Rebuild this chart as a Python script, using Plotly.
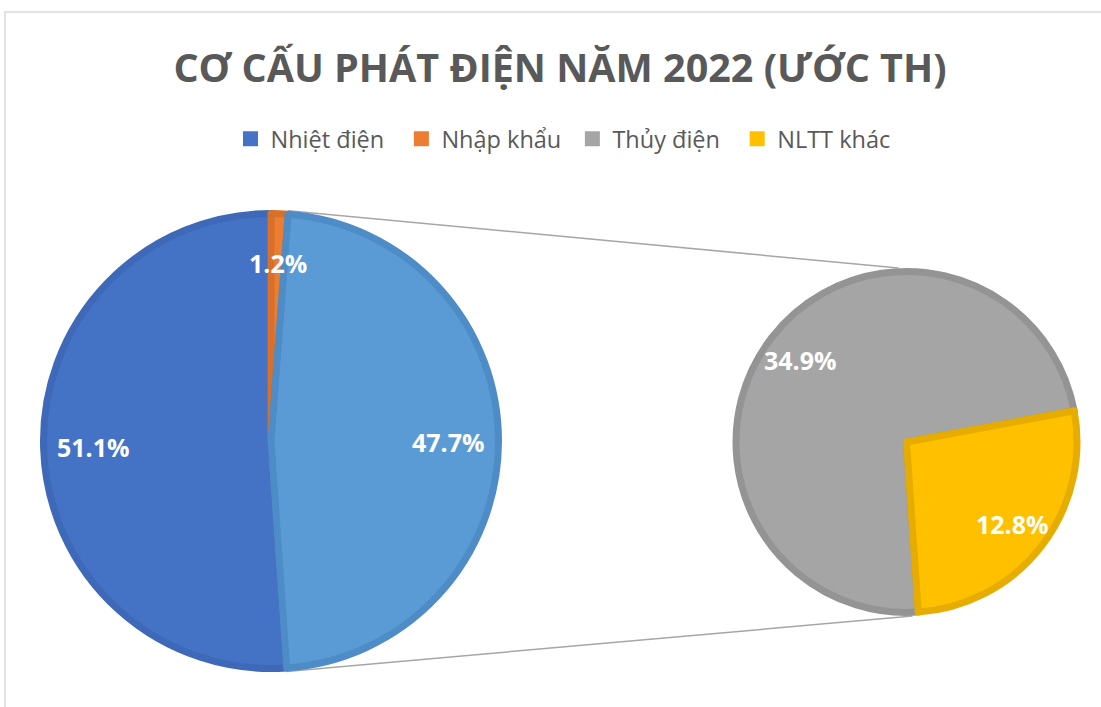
import math
import plotly.graph_objects as go

# ---------------- data ----------------
main_labels = ["Nhiệt điện", "Nhập khẩu", "Thủy điện + NLTT khác"]
main_values = [51.1, 1.2, 47.7]
sub_labels = ["Thủy điện", "NLTT khác"]
sub_values = [34.9, 12.8]
legend_labels = ["Nhiệt điện", "Nhập khẩu", "Thủy điện", "NLTT khác"]

title_text = "CƠ CẤU PHÁT ĐIỆN NĂM 2022 (ƯỚC TH)"

# ---------------- styles ----------------
fill = {"Nhiệt điện": "#4472C4", "Nhập khẩu": "#ED7D31", "Thủy điện + NLTT khác": "#5B9BD5",
        "Thủy điện": "#A5A5A5", "NLTT khác": "#FFC000"}
edge = {"Nhiệt điện": "#3D69B8", "Nhập khẩu": "#D9702A", "Thủy điện + NLTT khác": "#4D8CC6",
        "Thủy điện": "#949494", "NLTT khác": "#E6AC00"}
legend_pads = ["\u00a0\u00a0", "\u00a0", "\u00a0\u00a0", ""]

W, H = 1101, 707
LW = 7  # slice border width
# pie geometry in pixels (center x, center y, visible radius)
C1 = (271, 441, 231)
C2 = (906.5, 442, 174)


def px(x):
    return x / W


def py(y):
    return 1 - y / H


def domain(c):
    cx, cy, r = c
    r = r - LW / 2
    return dict(x=[px(cx - r), px(cx + r)], y=[py(cy + r), py(cy - r)])


# rotations so that the 2nd main slice starts at 12 o'clock (clockwise)
rot1 = 360 - 360 * main_values[0] / sum(main_values)
rot2 = rot1

fig = go.Figure()
fig.add_trace(go.Pie(
    labels=main_labels, values=main_values, sort=False, direction="clockwise",
    rotation=rot1, domain=domain(C1), textinfo="none", showlegend=False,
    hoverinfo="label+value",
    marker=dict(colors=[fill[l] for l in main_labels],
                line=dict(color=[edge[l] for l in main_labels], width=LW)),
))
fig.add_trace(go.Pie(
    labels=sub_labels, values=sub_values, sort=False, direction="clockwise",
    rotation=rot2, domain=domain(C2), textinfo="none", showlegend=False,
    hoverinfo="label+value",
    marker=dict(colors=[fill[l] for l in sub_labels],
                line=dict(color=[edge[l] for l in sub_labels], width=LW)),
))

# legend via dummy traces (non-breaking spaces widen the gap between entries)
for lab, pad in zip(legend_labels, legend_pads):
    fig.add_trace(go.Scatter(x=[None], y=[None], mode="markers", name=lab + pad,
                             marker=dict(symbol="square", size=15, color=fill[lab])))

annotations = []


def add_labels(labels, values, rot, c, frac):
    cx, cy, r = c
    total = sum(values)
    cum = 0
    for lab, v in zip(labels, values):
        a = math.radians(rot + 360 * (cum + v / 2) / total)
        cum += v
        x = cx + frac * r * math.sin(a)
        y = cy - frac * r * math.cos(a)
        annotations.append(dict(x=px(x), y=py(y), xref="paper", yref="paper",
                                text=f"<b>{v:.1f}%</b>", showarrow=False,
                                font=dict(family="Open Sans", size=25, color="white"),
                                xanchor="center", yanchor="middle"))


add_labels(main_labels, main_values, rot1, C1, 0.77)
add_labels(sub_labels, sub_values, rot2, C2, 0.77)

# connector lines from the secondary slice of the main pie to the secondary pie
shapes = []
cx1, cy1, r1 = C1
cx2, cy2, r2 = C2
tot = sum(main_values)
a_sec_start = math.radians(rot1 + 360 * (main_values[0] + main_values[1]) / tot)
a_sec_end = math.radians(rot1 + 360 * (main_values[0] + main_values[1] + main_values[2]) / tot)
pA = (cx1 + r1 * math.sin(a_sec_start), cy1 - r1 * math.cos(a_sec_start))
pB = (cx1 + r1 * math.sin(a_sec_end), cy1 - r1 * math.cos(a_sec_end))
for (x0, y0), (x1, y1) in [(pA, (cx2 - 8, cy2 - r2)), (pB, (cx2 + 6, cy2 + r2))]:
    shapes.append(dict(type="line", xref="paper", yref="paper",
                       x0=px(x0), y0=py(y0), x1=px(x1), y1=py(y1),
                       line=dict(color="#A6A6A6", width=1.5), layer="below"))

# chart frame
shapes.append(dict(type="rect", xref="paper", yref="paper",
                   x0=px(5), y0=py(12), x1=1.2, y1=-0.2,
                   line=dict(color="#D9D9D9", width=1.5), layer="below"))

fig.update_layout(
    width=W, height=H, autosize=False,
    margin=dict(l=0, r=0, t=0, b=0),
    paper_bgcolor="white", plot_bgcolor="white",
    title=dict(text="<b>" + title_text + "</b>", x=px(560), xanchor="center",
               y=py(68), yanchor="middle",
               font=dict(family="Open Sans", size=39.5, color="#595959")),
    legend=dict(orientation="h", x=px(563), xanchor="center", y=py(139), yanchor="middle",
                font=dict(family="Open Sans", size=23.5, color="#595959"),
                itemwidth=30, traceorder="normal", bgcolor="rgba(0,0,0,0)"),
    xaxis=dict(visible=False), yaxis=dict(visible=False),
    annotations=annotations, shapes=shapes,
)

fig.write_html("out.html", config={"displayModeBar": False},
               post_script="document.body.style.margin='0px';")
